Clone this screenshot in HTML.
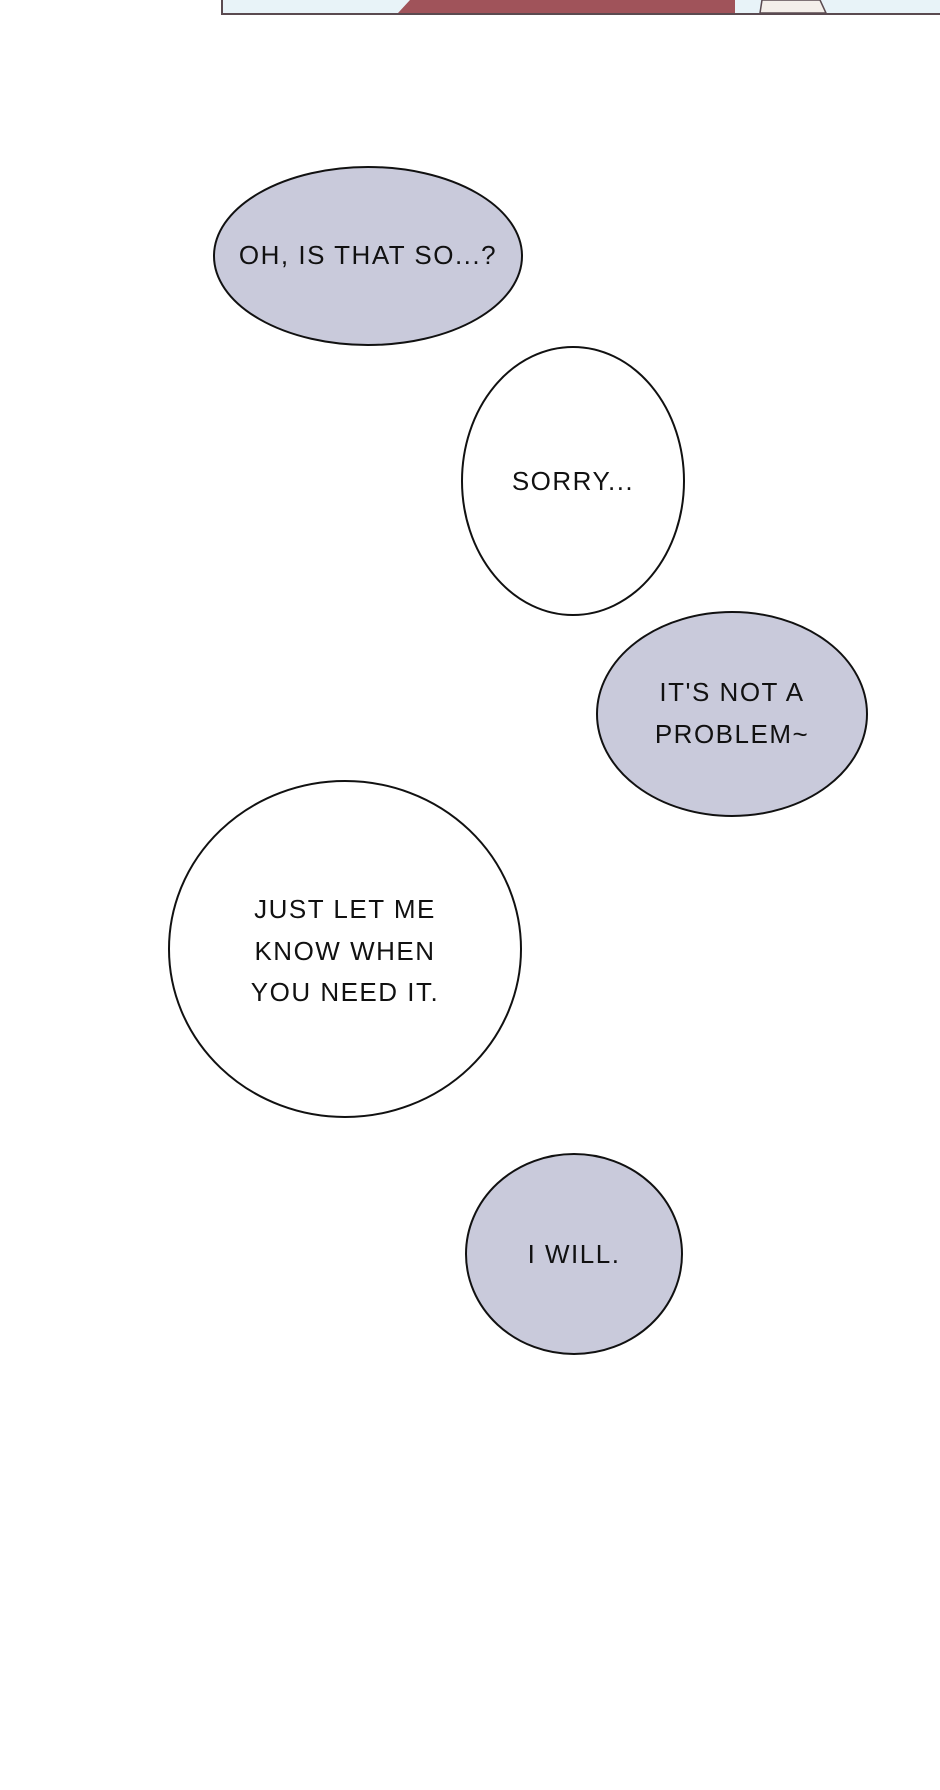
<!DOCTYPE html>
<html><head><meta charset="utf-8"><style>
html,body{margin:0;padding:0;background:#fff;}
svg{display:block;}
text{font-family:"Liberation Sans",sans-serif;font-size:26px;fill:#111;text-anchor:middle;letter-spacing:1.5px;}
</style></head><body>
<svg width="940" height="1790" viewBox="0 0 940 1790">
<rect x="0" y="0" width="940" height="1790" fill="#fff"/>
<rect x="222" y="-2" width="730" height="16" fill="#e8f3f8" stroke="#5a4a50" stroke-width="2"/>
<path d="M398 13 L410 0 L735 0 L735 13 Z" fill="#a0535a"/>
<path d="M760 13 L762 0 L820 0 L826 13 Z" fill="#f4efea" stroke="#5a4a50" stroke-width="1.5"/>
<ellipse cx="368" cy="256" rx="154" ry="89" fill="#c9cadb" stroke="#111" stroke-width="2"/>
<text x="368" y="264">OH, IS THAT SO...?</text>
<ellipse cx="573" cy="481" rx="111" ry="134" fill="#fff" stroke="#111" stroke-width="2"/>
<text x="573" y="490">SORRY...</text>
<ellipse cx="732" cy="714" rx="135" ry="102" fill="#c9cadb" stroke="#111" stroke-width="2"/>
<text x="732" y="701">IT'S NOT A</text>
<text x="732" y="743">PROBLEM~</text>
<ellipse cx="345" cy="949" rx="176" ry="168" fill="#fff" stroke="#111" stroke-width="2"/>
<text x="345" y="918">JUST LET ME</text>
<text x="345" y="960">KNOW WHEN</text>
<text x="345" y="1001">YOU NEED IT.</text>
<ellipse cx="574" cy="1254" rx="108" ry="100" fill="#c9cadb" stroke="#111" stroke-width="2"/>
<text x="574" y="1263">I WILL.</text>
</svg>
</body></html>
